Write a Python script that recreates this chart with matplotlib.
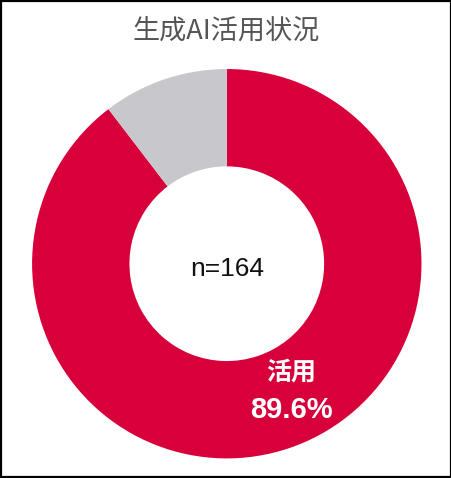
import matplotlib.pyplot as plt
from matplotlib.patches import Rectangle

plt.rcParams['font.family'] = ['Liberation Sans', 'Noto Sans CJK JP']

# Data
labels = ['活用', '未活用']
values = [89.6, 10.4]
colors = ['#D7003A', '#C8C8CC']
n_total = 164

fig = plt.figure(figsize=(4.52, 4.78), dpi=100)

# Outer frame
fig.patches.append(Rectangle((0.002, 0.002), 0.996, 0.996, transform=fig.transFigure,
                             fill=False, edgecolor='black', linewidth=1.6))

ax = fig.add_axes([0.071, 0.041, 0.8615, 0.8146])
ax.pie(values, colors=colors, startangle=90, counterclock=False, radius=1.0,
       wedgeprops=dict(width=0.5, edgecolor='none'))
ax.set_xlim(-1, 1)
ax.set_ylim(-1, 1)
ax.set_aspect('auto')
ax.axis('off')

# Center text
ax.text(0, -0.027, f'n={n_total}', ha='center', va='center', fontsize=19, color='#111111')

# Label on red segment
ax.text(0.33, -0.561, labels[0], ha='center', va='center', fontsize=18,
        color='white', fontweight='bold', family=['Noto Sans CJK JP'])
ax.text(0.33, -0.751, f'{values[0]}%', ha='center', va='center', fontsize=21,
        color='white', fontweight='bold')

fig.text(0.5, 0.934, '生成AI活用状況', ha='center', va='center', fontsize=19.5,
         color='#555555', family=['Noto Sans CJK JP'])

fig.savefig('out.png', dpi=100)
